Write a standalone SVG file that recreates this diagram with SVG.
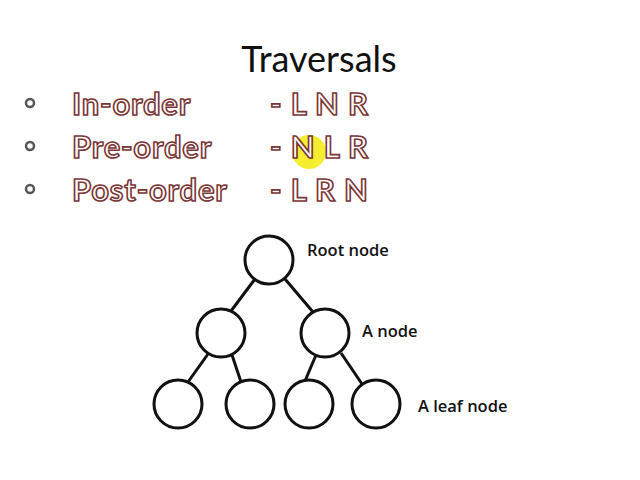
<svg xmlns="http://www.w3.org/2000/svg" width="640" height="480" viewBox="0 0 640 480">
<style>
.o{font-family:Lato,"Open Sans",sans-serif;font-size:31px;letter-spacing:0.8px;font-weight:bold;fill:#fff;stroke:#7a3535;stroke-width:1.6px}
.b{fill:none;stroke:#555;stroke-width:2.5}
.n circle{fill:#fff;stroke:#111;stroke-width:3}
.l{font-family:"Open Sans",sans-serif;font-size:16.5px;font-weight:600;fill:#111}
#edges line{stroke:#111;stroke-width:3}
</style>
<rect width="640" height="480" fill="#fff"/>
<text x="319" y="72" text-anchor="middle" font-family="Lato,'Open Sans',sans-serif" font-size="36" fill="#111">Traversals</text>
<circle class="b" cx="30" cy="103" r="4"/>
<circle class="b" cx="30" cy="146" r="4"/>
<circle class="b" cx="30" cy="189" r="4"/>
<circle cx="309" cy="152" r="17" fill="#f5ee30"/>
<text class="o" x="72" y="115">In-order</text>
<text class="o" x="72" y="158">Pre-order</text>
<text class="o" x="72" y="201">Post-order</text>
<text class="o" x="270" y="115">- L N R</text>
<text class="o" x="270" y="158">- N L R</text>
<text class="o" x="270" y="201">- L R N</text>
<g id="edges">
<line x1="255" y1="279" x2="231" y2="311"/>
<line x1="285" y1="279" x2="313" y2="312"/>
<line x1="208" y1="354" x2="188" y2="382"/>
<line x1="232" y1="355" x2="241" y2="382"/>
<line x1="316" y1="355" x2="305" y2="381"/>
<line x1="341" y1="353" x2="362" y2="384"/>
</g>
<g id="root" class="n"><circle cx="269" cy="260" r="24"/></g>
<g id="n1" class="n"><circle cx="221" cy="333" r="24"/></g>
<g id="n2" class="n"><circle cx="325" cy="333" r="24"/></g>
<g id="l1" class="n"><circle cx="178" cy="404" r="24"/></g>
<g id="l2" class="n"><circle cx="250" cy="404" r="24"/></g>
<g id="l3" class="n"><circle cx="309" cy="404" r="24"/></g>
<g id="l4" class="n"><circle cx="376" cy="404" r="24"/></g>
<text class="l" x="307" y="256">Root node</text>
<text class="l" x="362" y="337">A node</text>
<text class="l" x="418" y="412">A leaf node</text>
</svg>
